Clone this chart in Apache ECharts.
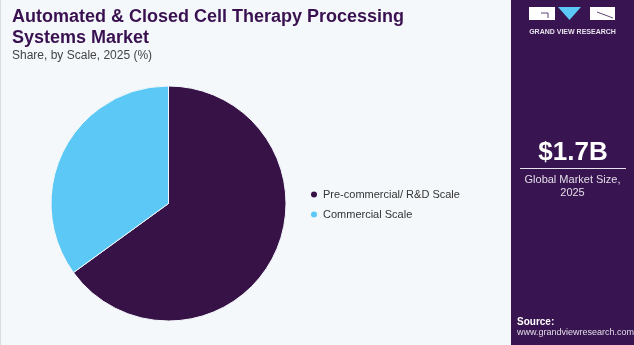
<!DOCTYPE html>
<html>
<head>
<meta charset="utf-8">
<script src="https://cdn.jsdelivr.net/npm/echarts@6/dist/echarts.min.js"></script>
<style>
html,body{margin:0;padding:0;background:#f4f8fb;}
#chart{width:634px;height:345px;}
</style>
</head>
<body>
<div id="chart"></div>
<script>
const categories = ["Pre-commercial/ R&D Scale", "Commercial Scale"];
const shares = [65, 35];
const colors = ["#371247", "#5bc8f5"];
const titleText = "Automated & Closed Cell Therapy Processing\nSystems Market";
const subtitleText = "Share, by Scale, 2025 (%)";
const marketSize = "$1.7B";
const marketLabel = "Global Market Size,\n2025";

const chart = echarts.init(document.getElementById('chart'), null, {renderer: 'canvas'});
const sidebarColor = "#381450";
chart.setOption({
  backgroundColor: "#f4f8fb",
  animation: false,
  title: {
    text: titleText,
    subtext: subtitleText,
    left: 12, top: 7,
    padding: 0,
    itemGap: 0,
    textStyle: {fontFamily: "Liberation Sans", fontWeight: 900, fontSize: 18, lineHeight: 21, color: "#3a1150"},
    subtextStyle: {fontFamily: "Liberation Sans", fontSize: 12, lineHeight: 14, color: "#444444"}
  },
  legend: {
    orient: 'vertical',
    left: 304, top: 184,
    icon: 'circle',
    itemWidth: 8, itemHeight: 8,
    itemGap: 9,
    data: categories,
    textStyle: {fontFamily: "Liberation Sans", fontSize: 11, color: "#333333", padding: [0,0,0,0]}
  },
  series: [{
    type: 'pie',
    center: [168.5, 203.5],
    radius: [0, 117.5],
    startAngle: 90,
    clockwise: true,
    label: {show: false},
    labelLine: {show: false},
    itemStyle: {borderColor: "#f4f8fb", borderWidth: 1},
    data: categories.map((c, i) => ({name: c, value: shares[i], itemStyle: {color: colors[i]}}))
  }],
  graphic: [
    {type: 'rect', shape: {x: 0, y: 0, width: 1, height: 345}, style: {fill: '#d6dde3'}},
    {type: 'rect', shape: {x: 511, y: 0, width: 123, height: 345}, style: {fill: sidebarColor}},
    // logo
    {type: 'rect', shape: {x: 529, y: 7, width: 26, height: 13}, style: {fill: '#ffffff'}},
    {type: 'polyline', shape: {points: [[541, 13], [548, 13], [548, 18]]}, style: {stroke: sidebarColor, lineWidth: 0.8, fill: null}},
    {type: 'polygon', shape: {points: [[558, 7], [581, 7], [569.5, 20]]}, style: {fill: '#5bc8f5'}},
    {type: 'rect', shape: {x: 590, y: 7, width: 25, height: 13}, style: {fill: '#ffffff'}},
    {type: 'polyline', shape: {points: [[597, 12], [613, 18]]}, style: {stroke: sidebarColor, lineWidth: 0.8, fill: null}},
    {type: 'text', style: {x: 572.5, y: 32, text: 'GRAND VIEW RESEARCH', fill: '#e6e1ea', font: 'bold 7px "Liberation Sans"', align: 'center', verticalAlign: 'middle'}},
    // market size
    {type: 'text', style: {x: 573, y: 153, text: marketSize, fill: '#ffffff', font: 'bold 26px "Liberation Sans"', align: 'center', verticalAlign: 'middle'}},
    {type: 'rect', shape: {x: 520, y: 168, width: 106, height: 1}, style: {fill: '#e8e2ee'}},
    {type: 'text', style: {x: 572.5, y: 186, text: marketLabel, fill: '#e2dce8', font: '11px "Liberation Sans"', lineHeight: 13, align: 'center', verticalAlign: 'middle'}},
    // source
    {type: 'text', style: {x: 517, y: 322, text: 'Source:', fill: '#ffffff', font: 'bold 10px "Liberation Sans"', verticalAlign: 'middle'}},
    {type: 'text', style: {x: 517, y: 333, text: 'www.grandviewresearch.com', fill: '#e2dce8', font: '9px "Liberation Sans"', verticalAlign: 'middle'}}
  ]
});
</script>
</body>
</html>
